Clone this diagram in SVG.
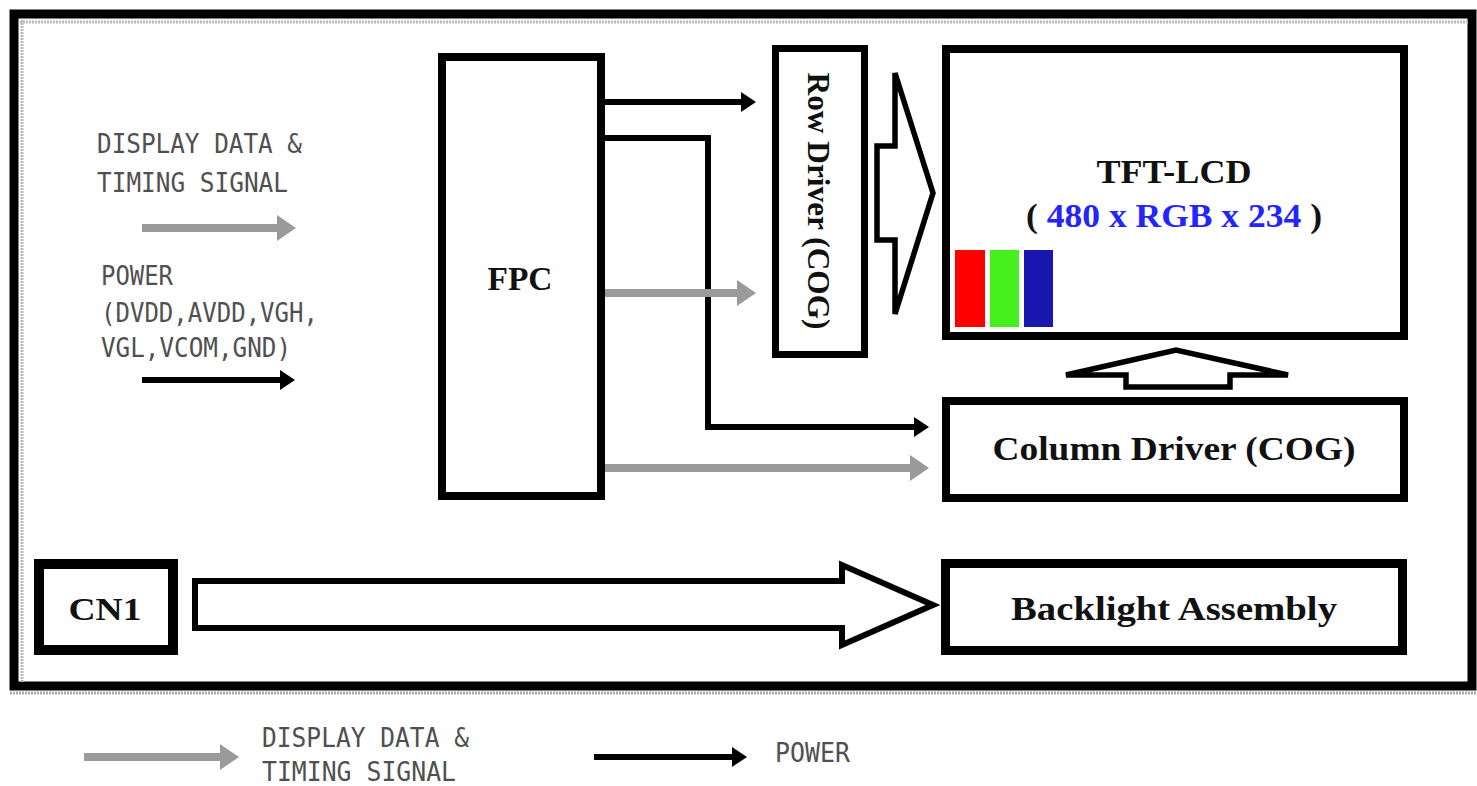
<svg xmlns="http://www.w3.org/2000/svg" width="1477" height="786" viewBox="0 0 1477 786">
<defs>
<style>
.box{fill:#fff;stroke:#000}
.lbl{font-family:"Liberation Serif","Times New Roman",serif;font-weight:bold;fill:#111;text-anchor:middle}
.leg{font-family:"DejaVu Sans Mono","Liberation Mono",monospace;font-size:26px;fill:#505050}
.pw{fill:none;stroke:#000;stroke-width:6}
.sg{fill:none;stroke:#9a9a9a;stroke-width:8}
.hollow{fill:#fff;stroke:#000;stroke-linejoin:miter}
</style>
<marker id="hb" markerUnits="userSpaceOnUse" markerWidth="15" markerHeight="20" refX="0" refY="10" orient="auto"><path d="M0,0 L15,10 L0,20 z" fill="#000"/></marker>
<marker id="hg" markerUnits="userSpaceOnUse" markerWidth="19" markerHeight="26" refX="0" refY="13" orient="auto"><path d="M0,0 L19,13 L0,26 z" fill="#9a9a9a"/></marker>
</defs>
<rect width="1477" height="786" fill="#fff"/>

<g id="frame">
<rect x="14" y="14" width="1458" height="672" fill="#fff" stroke="#000" stroke-width="9"/>
<path d="M20,22 H1468 M22,20 V682" stroke="#bbb" stroke-width="3" stroke-dasharray="2 1" fill="none"/>
<path d="M10,693 H1477" stroke="#aaa" stroke-width="3" stroke-dasharray="2 1" fill="none"/>
</g>

<g id="legend-top">
<text class="leg" x="97" y="153" textLength="205" lengthAdjust="spacingAndGlyphs">DISPLAY DATA &amp;</text>
<text class="leg" x="97" y="192" textLength="191" lengthAdjust="spacingAndGlyphs">TIMING SIGNAL</text>
<text class="leg" x="101" y="285" textLength="72" lengthAdjust="spacingAndGlyphs">POWER</text>
<text class="leg" x="101" y="322" textLength="217" lengthAdjust="spacingAndGlyphs">(DVDD,AVDD,VGH,</text>
<text class="leg" x="101" y="357" textLength="190" lengthAdjust="spacingAndGlyphs">VGL,VCOM,GND)</text>
</g>

<g id="fpc">
<rect class="box" x="442" y="57" width="159" height="439" stroke-width="8"/>
<text class="lbl" x="520" y="290" font-size="33" textLength="65" lengthAdjust="spacingAndGlyphs">FPC</text>
</g>

<g id="row-driver">
<rect class="box" x="775.5" y="48.5" width="89" height="306" stroke-width="7"/>
<text class="lbl" transform="translate(808,201) rotate(90)" x="0" y="0" font-size="31" textLength="257" lengthAdjust="spacingAndGlyphs">Row Driver (COG)</text>
</g>

<g id="tft-lcd">
<rect class="box" x="946" y="49" width="458" height="287" stroke-width="8"/>
<text class="lbl" x="1174" y="183" font-size="34" textLength="155" lengthAdjust="spacingAndGlyphs">TFT-LCD</text>
<text class="lbl" x="1174" y="227" font-size="33" textLength="296" lengthAdjust="spacingAndGlyphs">( <tspan fill="#2424ff">480 x RGB x 234</tspan> )</text>
<rect x="955" y="250" width="30" height="77" fill="#ff0000"/>
<rect x="990" y="250" width="29" height="77" fill="#45f01c"/>
<rect x="1024" y="250" width="29" height="77" fill="#1a17b0"/>
</g>

<g id="column-driver">
<rect class="box" x="946" y="401" width="458" height="97" stroke-width="8"/>
<text class="lbl" x="1174" y="460" font-size="33" textLength="363" lengthAdjust="spacingAndGlyphs">Column Driver (COG)</text>
</g>

<g id="cn1">
<rect class="box" x="39" y="564" width="134" height="86" stroke-width="10"/>
<text class="lbl" x="105" y="620" font-size="32" textLength="73" lengthAdjust="spacingAndGlyphs">CN1</text>
</g>

<g id="backlight">
<rect class="box" x="945.5" y="563.5" width="457" height="87" stroke-width="9"/>
<text class="lbl" x="1174" y="620" font-size="33" textLength="326" lengthAdjust="spacingAndGlyphs">Backlight Assembly</text>
</g>

<g id="connectors">
<path class="sg" d="M142,228 H277" marker-end="url(#hg)"/>
<path class="pw" d="M142,380 H280" marker-end="url(#hb)"/>
<path class="pw" d="M605,102 H741" marker-end="url(#hb)"/>
<path class="pw" d="M605,138 H708 V427 H914" marker-end="url(#hb)"/>
<path class="sg" d="M605,293 H737" marker-end="url(#hg)"/>
<path class="sg" d="M605,468 H910" marker-end="url(#hg)"/>
<polygon class="hollow" stroke-width="5.5" points="877,146 895,146 895,73 933,193 895,314 895,240 877,240"/>
<polygon class="hollow" stroke-width="5.5" points="1066,375 1176,350 1288,375 1230,375 1230,387 1126,387 1126,375"/>
<polygon class="hollow" stroke-width="6" points="195,581 842,581 842,565 933,605 842,645 842,628 195,628"/>
</g>

<g id="legend-bottom">
<path class="sg" stroke-width="10" d="M84,757 H220" marker-end="url(#hg)"/>
<text class="leg" x="262" y="747" textLength="207" lengthAdjust="spacingAndGlyphs">DISPLAY DATA &amp;</text>
<text class="leg" x="262" y="781" textLength="194" lengthAdjust="spacingAndGlyphs">TIMING SIGNAL</text>
<path class="pw" stroke-width="7" d="M594,757 H732" marker-end="url(#hb)"/>
<text class="leg" x="775" y="762" textLength="75" lengthAdjust="spacingAndGlyphs">POWER</text>
</g>
</svg>
